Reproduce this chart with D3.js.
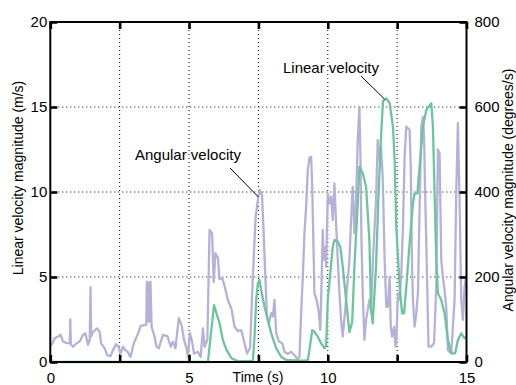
<!DOCTYPE html>
<html><head><meta charset="utf-8">
<script src="https://cdn.jsdelivr.net/npm/d3@7"></script>
<style>
html,body{margin:0;padding:0;background:#fff;}
svg text{font-family:"Liberation Sans",Arial,Helvetica,sans-serif;fill:#000;}
</style></head>
<body>
<svg id="c" width="516" height="385"></svg>
<script>
// Angular velocity (degrees/s) - purple, right axis
const angTime = [0.00,0.06,0.16,0.28,0.37,0.46,0.58,0.70,0.72,0.74,0.82,0.94,1.06,1.18,1.26,1.36,1.42,1.45,1.47,1.54,1.69,1.78,1.83,1.96,2.05,2.17,2.26,2.37,2.46,2.53,2.62,2.70,2.79,2.89,3.01,3.17,3.26,3.38,3.46,3.48,3.50,3.54,3.57,3.61,3.65,3.74,3.83,3.91,4.06,4.22,4.34,4.42,4.51,4.63,4.73,4.82,4.91,4.96,5.03,5.11,5.18,5.32,5.42,5.50,5.56,5.66,5.74,5.83,5.89,5.95,6.04,6.10,6.20,6.28,6.40,6.53,6.64,6.76,6.88,7.00,7.09,7.20,7.30,7.40,7.48,7.54,7.63,7.69,7.76,7.81,7.88,7.96,8.02,8.08,8.14,8.24,8.36,8.44,8.56,8.68,8.80,8.92,8.98,9.04,9.10,9.16,9.22,9.28,9.34,9.40,9.44,9.49,9.52,9.60,9.68,9.73,9.76,9.82,9.85,9.92,9.94,10.00,10.06,10.12,10.18,10.24,10.30,10.36,10.42,10.48,10.54,10.66,10.78,10.84,10.90,10.96,11.02,11.08,11.14,11.18,11.21,11.26,11.32,11.38,11.50,11.56,11.64,11.74,11.80,11.86,11.92,11.98,12.05,12.11,12.17,12.23,12.27,12.32,12.39,12.44,12.47,12.53,12.59,12.65,12.71,12.77,12.83,12.95,12.99,13.04,13.07,13.13,13.19,13.25,13.31,13.37,13.43,13.47,13.51,13.59,13.63,13.73,13.83,13.91,13.97,14.03,14.09,14.15,14.21,14.27,14.33,14.45,14.57,14.63,14.69,14.75,14.81,14.87,14.93,15.00];
const angVel  = [40,42,56,60,64,48,45,44,100,42,36,44,48,64,68,40,52,176,60,71,79,71,44,32,16,14,28,42,36,20,36,28,24,12,44,68,85,87,88,189,95,186,95,189,83,64,36,32,64,61,36,48,32,103,87,52,32,12,68,48,20,24,12,79,36,52,311,303,188,256,245,195,197,179,146,125,83,73,75,44,20,33,200,341,381,405,393,303,185,107,91,115,107,146,68,48,44,24,19,24,16,6,12,115,200,303,365,452,481,483,412,256,162,146,115,75,146,311,240,271,224,397,373,389,334,420,326,240,162,99,60,146,240,334,412,303,381,522,600,475,303,162,52,99,146,122,256,381,522,475,507,436,240,130,130,200,83,60,83,36,52,162,146,209,318,483,554,546,460,216,146,83,115,162,365,554,577,530,397,162,36,36,44,177,500,491,240,200,169,130,28,20,146,397,562,381,146,99,177,205];

// Linear velocity (m/s) - green, left axis
const linTime = [0,5.68,5.90,6.10,6.22,6.35,6.53,6.71,6.82,7.24,7.30,7.36,7.42,7.48,7.54,7.60,7.72,7.84,7.96,8.14,8.32,8.50,8.98,9.20,9.28,9.34,9.44,9.52,9.64,9.76,9.88,9.94,10.00,10.09,10.18,10.24,10.36,10.45,10.54,10.66,10.78,10.88,10.96,11.08,11.14,11.26,11.38,11.50,11.56,11.62,11.74,11.83,11.92,11.99,12.04,12.11,12.23,12.35,12.41,12.47,12.59,12.68,12.75,12.83,12.95,13.07,13.13,13.23,13.31,13.43,13.55,13.73,13.79,13.85,13.91,13.97,14.09,14.21,14.33,14.45,14.59,14.69,14.81,14.93,15.00];
const linVel  = [0,0,3.35,2.28,1.29,0.71,0.22,0.08,0.05,0.05,0.08,1.49,3.65,4.63,4.82,4.24,3.25,2.47,1.7,0.82,0.31,0.12,0.08,0.08,0.12,0.71,1.88,1.78,1.49,1.1,0.81,0.94,3.65,5.22,6.78,7.18,7.08,6.78,5.61,3.65,1.76,2.35,5.61,9.34,11.49,11.1,10.31,7.18,3.06,2.28,5.61,9.92,13.25,15.35,15.41,15.51,15.22,13.84,11.88,7.96,4.43,2.86,2.86,4.43,6.98,9.34,9.92,9.92,11.49,13.84,14.82,15.22,13.84,9.92,6.0,4.04,3.65,2.86,1.29,0.51,0.51,1.29,1.69,1.39,1.47];

const xTicks = [0,2.5,5,7.5,10,12.5,15];
const xLabels = [0,5,10,15];
const yLeftTicks = [0,5,10,15,20];
const yRightTicks = [0,200,400,600,800];

const svg = d3.select("#c");
const L = 50.3, R = 466.5, T = 22, B = 362;
const x = d3.scaleLinear().domain([0,15]).range([L,R]);
const yL = d3.scaleLinear().domain([0,20]).range([B,T]);
const yR = d3.scaleLinear().domain([0,800]).range([B,T]);

// grid
const g = svg.append("g");
g.selectAll("line.vg").data(xTicks.filter(d=>d>0&&d<15)).join("line")
  .attr("x1",d=>x(d)).attr("x2",d=>x(d)).attr("y1",T).attr("y2",B)
  .attr("stroke","#000").attr("stroke-width",1).attr("stroke-dasharray","1,3");
g.selectAll("line.hg").data(yLeftTicks.filter(d=>d>0&&d<20)).join("line")
  .attr("x1",L).attr("x2",R).attr("y1",d=>yL(d)).attr("y2",d=>yL(d))
  .attr("stroke","#000").attr("stroke-width",1).attr("stroke-dasharray","1,3");

// series
const angData = angTime.map((t,i)=>[t,angVel[i]]);
const linData = linTime.map((t,i)=>[t,linVel[i]]);
svg.append("path").datum(angData)
  .attr("d", d3.line().x(d=>x(d[0])).y(d=>yR(d[1])))
  .attr("fill","none").attr("stroke","#b7b1da").attr("stroke-width",2.3).attr("stroke-linejoin","round");
svg.append("path").datum(linData)
  .attr("d", d3.line().x(d=>x(d[0])).y(d=>yL(d[1])))
  .attr("fill","none").attr("stroke","#6cc59c").attr("stroke-width",2.3).attr("stroke-linejoin","round");

// frame
svg.append("rect").attr("x",L).attr("y",T).attr("width",R-L).attr("height",B-T)
  .attr("fill","none").attr("stroke","#000").attr("stroke-width",2);

const fmtX = d => xLabels.includes(d) ? String(d) : "";
function styleAxis(sel){
  sel.select(".domain").remove();
  sel.selectAll(".tick line").attr("stroke","#000").attr("stroke-width",2.6);
  sel.selectAll(".tick text").attr("font-size",15).attr("fill","#000")
     .attr("font-family",'"Liberation Sans",Arial,sans-serif');
}
svg.append("g").attr("transform",`translate(0,${B})`)
  .call(d3.axisBottom(x).tickValues(xTicks).tickFormat(fmtX).tickSizeInner(-7).tickSizeOuter(0).tickPadding(10))
  .call(styleAxis);
svg.append("g").attr("transform",`translate(0,${T})`)
  .call(d3.axisTop(x).tickValues(xTicks).tickFormat("").tickSizeInner(-7).tickSizeOuter(0))
  .call(styleAxis);
svg.append("g").attr("transform",`translate(${L},0)`)
  .call(d3.axisLeft(yL).tickValues(yLeftTicks).tickFormat(d3.format("d")).tickSizeInner(-7).tickSizeOuter(0).tickPadding(3))
  .call(styleAxis);
svg.append("g").attr("transform",`translate(${R},0)`)
  .call(d3.axisRight(yR).tickValues(yRightTicks).tickFormat(d3.format("d")).tickSizeInner(-7).tickSizeOuter(0).tickPadding(8))
  .call(styleAxis);

// axis titles
svg.append("text").attr("x",258).attr("y",382).attr("text-anchor","middle").attr("font-size",14).text("Time (s)");
svg.append("text").attr("transform","translate(23,178) rotate(-90)").attr("text-anchor","middle").attr("font-size",14)
  .text("Linear velocity magnitude (m/s)");
svg.append("text").attr("transform","translate(513,190) rotate(-90)").attr("text-anchor","middle").attr("font-size",14)
  .text("Angular velocity magnitude (degrees/s)");

// annotations
svg.append("text").attr("x",135).attr("y",160).attr("font-size",15).text("Angular velocity");
svg.append("line").attr("x1",230).attr("y1",168).attr("x2",x(7.5)).attr("y2",yR(400)+5)
  .attr("stroke","#000").attr("stroke-width",1);
svg.append("text").attr("x",283).attr("y",73).attr("font-size",15).text("Linear velocity");
svg.append("line").attr("x1",361).attr("y1",76).attr("x2",x(12.05)).attr("y2",yL(15.4)-1)
  .attr("stroke","#000").attr("stroke-width",1);
</script>
</body></html>
